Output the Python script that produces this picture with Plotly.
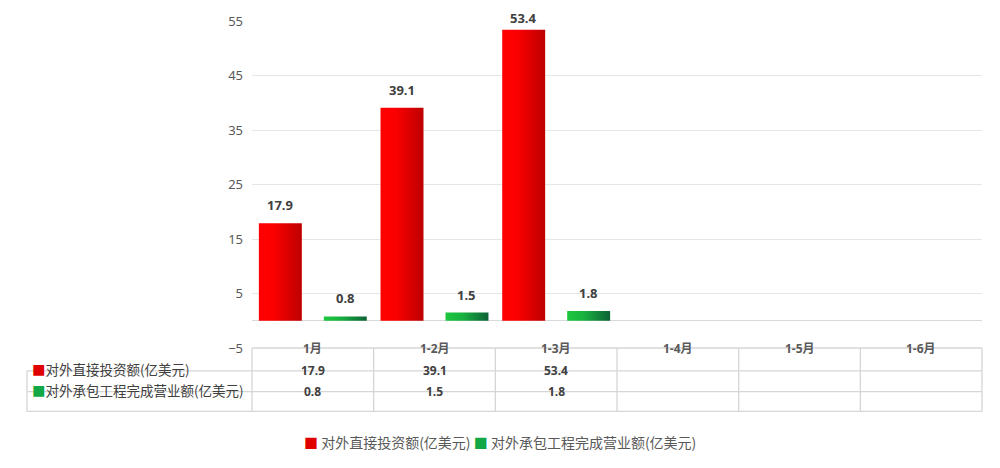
import plotly.graph_objects as go

categories = ['1月', '1-2月', '1-3月', '1-4月', '1-5月', '1-6月']
fdi = [17.9, 39.1, 53.4, None, None, None]
contract = [0.8, 1.5, 1.8, None, None, None]
series_names = ['对外直接投资额(亿美元)', '对外承包工程完成营业额(亿美元)']
y_ticks = [-5, 5, 15, 25, 35, 45, 55]

W, H = 1000, 468
ML, MR, MT, MB = 252, 18, 18, 120
PW, PH = W - ML - MR, H - MT - MB
Y0, Y1 = -5, 55

bar_w = 0.353
centers = [-0.267, 0.267]
gradients = [
    [[0, '#ff0000'], [0.35, '#fb0000'], [1, '#bd0000']],
    [[0, '#1ec83e'], [0.4, '#18b040'], [1, '#0d6236']],
]
legend_cols = ['#e00000', '#12a845']

fig = go.Figure()
for s, (vals, name) in enumerate(zip([fdi, contract], series_names)):
    for i, v in enumerate(vals):
        if v is None:
            continue
        x0 = i + centers[s] - bar_w / 2
        x1 = i + centers[s] + bar_w / 2
        fig.add_trace(go.Scatter(
            x=[x0, x1, x1, x0, x0], y=[0, 0, v, v, 0], mode='lines', fill='toself',
            line=dict(width=0), name=name, showlegend=False, hoverinfo='skip',
            fillgradient=dict(type='horizontal', colorscale=gradients[s])))

annotations = []
# data labels above bars
for s, vals in enumerate([fdi, contract]):
    for i, v in enumerate(vals):
        if v is None:
            continue
        top_px = MT + (Y1 - v) / (Y1 - Y0) * PH
        lab_px = max(top_px - 18, 15)
        annotations.append(dict(
            x=i + centers[s], y=v, xref='x', yref='y', text='<b>%s</b>' % v,
            showarrow=False, yanchor='middle', yshift=top_px - lab_px,
            font=dict(family='Noto Sans', size=13, color='#404040')))


def py(px):
    return (MT + PH - px) / PH


# data table below the plot
rows = [py(348), py(371), py(392), py(412)]
label_left = (27 - ML) / PW
ncat = len(categories)
bounds = [i / ncat for i in range(ncat + 1)]
line = dict(color='#d6d6d6', width=1.3)
shapes = [dict(type='line', xref='paper', yref='paper', x0=0, x1=1, y0=rows[0], y1=rows[0], line=line)]
for r in rows[1:]:
    shapes.append(dict(type='line', xref='paper', yref='paper', x0=label_left, x1=1, y0=r, y1=r, line=line))
for b in bounds:
    shapes.append(dict(type='line', xref='paper', yref='paper', x0=b, x1=b, y0=rows[0], y1=rows[3], line=line))
shapes.append(dict(type='line', xref='paper', yref='paper', x0=label_left, x1=label_left,
                   y0=rows[1], y1=rows[3], line=line))

mids = [(rows[j] + rows[j + 1]) / 2 for j in range(3)]
for i, c in enumerate(categories):
    annotations.append(dict(x=i, y=mids[0], xref='x', yref='paper', text='<b>%s</b>' % c,
                            showarrow=False,
                            font=dict(family='Noto Sans, Noto Sans CJK SC', size=12, color='#595959')))
    for j, vals in enumerate([fdi, contract]):
        if vals[i] is not None:
            annotations.append(dict(x=i, y=mids[j + 1], xref='x', yref='paper', text='<b>%s</b>' % vals[i],
                                    showarrow=False, font=dict(family='Noto Sans', size=12, color='#404040')))
for j, name in enumerate(series_names):
    annotations.append(dict(
        x=(30 - ML) / PW, y=mids[j + 1], xref='paper', yref='paper', xanchor='left',
        text='<span style="color:%s">■</span>%s' % (legend_cols[j], name), showarrow=False,
        font=dict(family='Noto Sans CJK SC', size=13.5, color='#404040')))

# legend line at the bottom
legend_text = ' '.join('<span style="color:%s">■</span> %s' % (legend_cols[j], n)
                       for j, n in enumerate(series_names))
annotations.append(dict(x=(500 - ML) / PW, y=py(443), xref='paper', yref='paper', xanchor='center',
                        yanchor='middle', text=legend_text, showarrow=False,
                        font=dict(family='Noto Sans CJK SC', size=14, color='#595959')))

fig.update_layout(
    width=W, height=H, margin=dict(l=ML, r=MR, t=MT, b=MB),
    paper_bgcolor='white', plot_bgcolor='white', showlegend=False,
    xaxis=dict(type='linear', range=[-0.5, ncat - 0.5], showticklabels=False,
               showgrid=False, showline=False, zeroline=False, fixedrange=True),
    yaxis=dict(range=[Y0, Y1], tickvals=y_ticks, showgrid=True, gridcolor='#e6e6e6', gridwidth=1,
               zeroline=True, zerolinecolor='#d9d9d9', zerolinewidth=1.3, showline=False,
               ticklabelstandoff=8,
               tickfont=dict(family='Noto Sans', size=13, color='#595959'), fixedrange=True),
    shapes=shapes, annotations=annotations, hovermode=False,
)

fig.write_html('out.html')
